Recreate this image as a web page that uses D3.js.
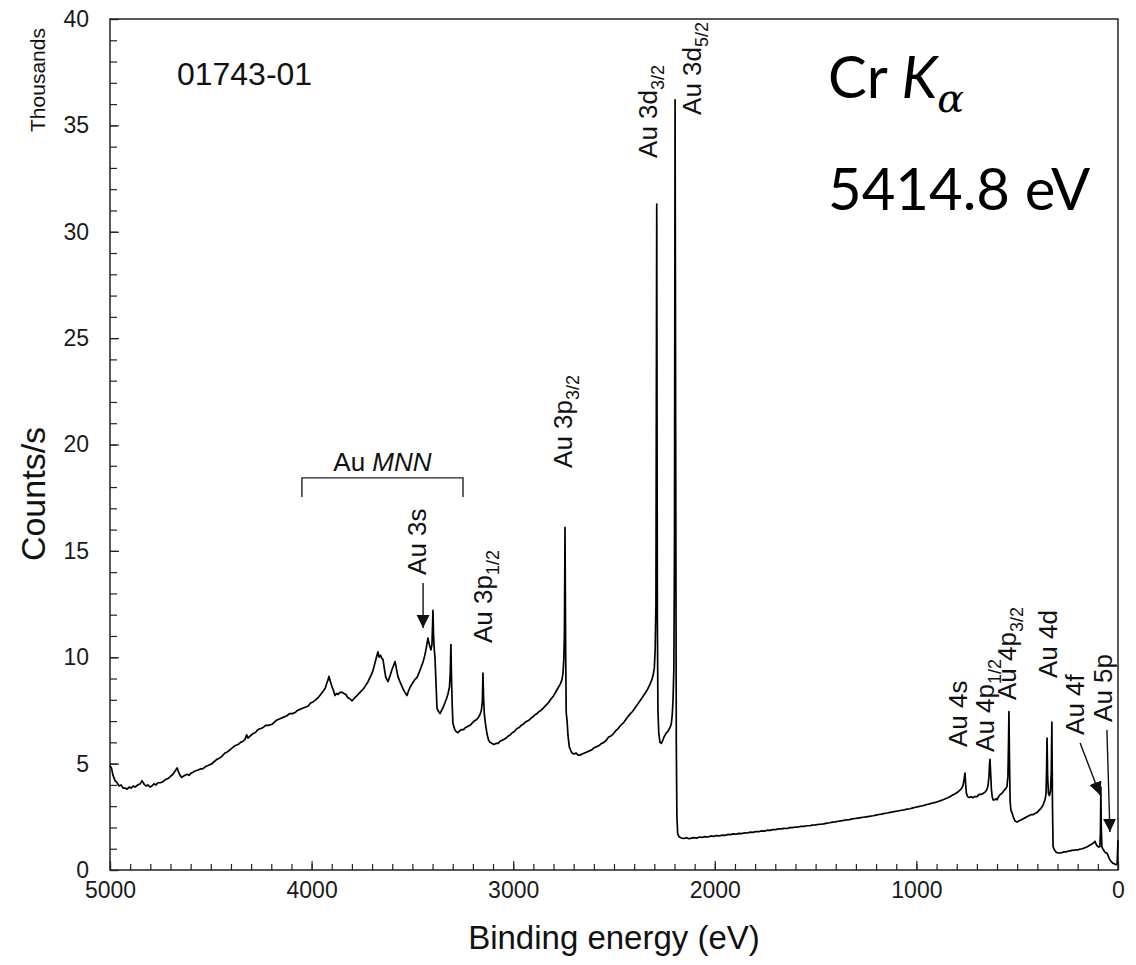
<!DOCTYPE html>
<html>
<head>
<meta charset="utf-8">
<script src="https://d3js.org/d3.v7.min.js"></script>
<style>
  body { margin: 0; background: #fff; }
  svg { display: block; font-family: "Liberation Sans", Arial, sans-serif; }
</style>
</head>
<body>
<svg id="chart" width="1136" height="965"></svg>
<script>
// XPS survey spectrum of Au: [binding energy (eV), counts/s (thousands)]
const augerRegion = [
  [5000,4.9],[4993,4.8],[4985,4.45],[4975,4.2],[4965,4.1],[4955,3.95],[4945,4.0],[4935,3.85],[4925,3.85],[4915,3.8],
  [4905,3.9],[4895,3.85],[4885,3.95],[4875,3.9],[4862,4.0],[4850,4.05],[4841,4.2],[4832,4.05],[4822,3.95],[4812,4.0],
  [4802,3.9],[4792,3.95],[4782,4.05],[4772,4.0],[4762,4.1],[4750,4.1],[4737,4.15],[4725,4.25],[4712,4.3],[4700,4.4],
  [4688,4.5],[4677,4.65],[4667,4.8],[4660,4.6],[4652,4.45],[4645,4.35],[4638,4.4],[4628,4.45],[4618,4.5],[4608,4.45],
  [4598,4.55],[4588,4.6],[4578,4.65],[4563,4.7],[4552,4.75],[4540,4.75],[4528,4.85],[4516,4.9],[4505,4.95],[4494,5.0],
  [4482,5.1],[4470,5.2],[4458,5.25],[4444,5.35],[4430,5.5],[4418,5.55],[4405,5.65],[4392,5.75],[4378,5.85],[4365,5.9],
  [4352,6.0],[4340,6.05],[4330,6.15],[4322,6.35],[4315,6.2],[4305,6.3],[4292,6.4],[4280,6.45],[4266,6.6],[4252,6.65],
  [4240,6.7],[4228,6.8],[4215,6.8],[4196,6.85],[4185,6.95],[4172,7.05],[4160,7.1],[4147,7.15],[4135,7.2],[4122,7.25],
  [4110,7.35],[4095,7.35],[4082,7.4],[4070,7.5],[4058,7.55],[4045,7.6],[4032,7.65],[4018,7.7],[4005,7.85],[3993,7.9],
  [3980,8.0],[3968,8.1],[3955,8.25],[3943,8.4],[3932,8.55],[3924,8.8],[3918,8.95],[3914,9.1],[3908,8.9],[3900,8.65],
  [3892,8.45],[3884,8.2],[3876,8.3],[3868,8.25],[3860,8.35],[3849,8.35],[3840,8.3],[3830,8.25],[3820,8.1],[3810,8.05],
  [3800,7.95],[3790,8.05],[3780,8.15],[3770,8.25],[3760,8.35],[3750,8.45],[3740,8.55],[3730,8.7],[3720,8.85],[3710,9.05],
  [3700,9.25],[3692,9.5],[3684,9.8],[3677,10.05],[3671,10.25],[3665,10.0],[3658,10.1],[3652,9.95],[3646,9.9],[3639,9.45],
  [3632,9.05],[3621,8.85],[3612,9.1],[3602,9.4],[3594,9.6],[3586,9.8]
];

const coreRegion = [
  [3580,9.5],[3572,9.1],[3564,8.9],[3555,8.7],[3546,8.5],[3537,8.35],[3527,8.2],[3518,8.45],[3508,8.65],[3498,8.8],
  [3488,8.95],[3477,9.05],[3468,9.25],[3458,9.5],[3448,9.75],[3438,10.1],[3430,10.5],[3423,10.9],[3416,10.6],[3408,10.35],
  [3403,10.6],[3400,11.5],[3398,12.2],[3395,11.0],[3391,10.3],[3388,10.0],[3383,8.8],[3378,7.6],[3370,7.45],[3363,7.35],
  [3355,7.5],[3347,7.65],[3339,7.85],[3331,8.05],[3323,8.3],[3316,8.6],[3312,9.3],[3309,10.6],[3306,9.0],[3302,7.6],
  [3299,6.9],[3290,6.6],[3282,6.5],[3274,6.45],[3265,6.55],[3256,6.6],[3246,6.6],[3236,6.7],[3226,6.75],[3214,6.8],
  [3204,6.9],[3194,7.0],[3184,7.05],[3174,7.15],[3165,7.3],[3158,7.5],[3153,7.9],[3150,9.25],[3147,8.1],[3143,7.3],
  [3138,6.9],[3130,6.4],[3122,6.1],[3115,6.0],[3105,5.95],[3095,5.9],[3085,5.95],[3075,5.95],[3065,6.05],[3055,6.1],
  [3045,6.15],[3035,6.2],[3025,6.3],[3015,6.35],[3005,6.45],[2995,6.5],[2981,6.65],[2970,6.7],[2960,6.8],[2950,6.85],
  [2940,6.95],[2930,7.0],[2920,7.05],[2910,7.15],[2902,7.2],[2892,7.3],[2882,7.35],[2872,7.45],[2862,7.5],[2852,7.6],
  [2842,7.7],[2832,7.8],[2822,7.9],[2812,8.05],[2802,8.15],[2793,8.3],[2784,8.45],[2775,8.6],[2766,8.75],[2758,8.95],
  [2753,9.25],[2749,9.9],[2746,11.0],[2743,16.1],[2740,10.5],[2737,7.4],[2733,7.05],[2728,6.3],[2722,5.8],[2714,5.6],
  [2708,5.5],[2698,5.45],[2688,5.5],[2678,5.4],[2669,5.4],[2658,5.45],[2646,5.5],[2634,5.55],[2622,5.6],[2610,5.65],
  [2598,5.75],[2586,5.8],[2574,5.85],[2562,5.95],[2550,6.0],[2538,6.1],[2527,6.25],[2515,6.3],[2503,6.4],[2491,6.55],
  [2479,6.65],[2467,6.8],[2455,6.9],[2443,7.05],[2431,7.2],[2419,7.35],[2408,7.45],[2397,7.6],[2386,7.75],[2375,7.9],
  [2364,8.05],[2353,8.2],[2343,8.35],[2333,8.5],[2323,8.7],[2314,8.9],[2306,9.15],[2300,9.5],[2296,10.3],[2292,12.5],
  [2288,31.3],[2285,12.0],[2282,7.5],[2278,6.45],[2272,6.0],[2265,5.95],[2258,6.1],[2252,6.25],[2246,6.35],[2240,6.45],
  [2234,6.5],[2228,6.6],[2222,6.7],[2216,6.85],[2211,7.3],[2207,8.0],[2203,9.5],[2200,15.0],[2197,36.2],[2194,20.0],
  [2191,6.0],[2188,2.5],[2184,1.7]
];

const valenceRegion = [
  [2176,1.55],[2165,1.5],[2152,1.48],[2140,1.52],[2128,1.47],[2116,1.5],[2104,1.52],[2090,1.5],[2076,1.55],[2062,1.53],
  [2048,1.57],[2034,1.55],[2020,1.6],[2006,1.58],[1992,1.62],[1978,1.6],[1964,1.64],[1950,1.63],[1936,1.67],[1922,1.66],
  [1908,1.7],[1894,1.68],[1880,1.72],[1866,1.71],[1852,1.75],[1838,1.74],[1824,1.78],[1810,1.77],[1796,1.81],[1782,1.8],
  [1768,1.84],[1754,1.83],[1740,1.87],[1726,1.86],[1712,1.9],[1698,1.9],[1684,1.93],[1670,1.93],[1656,1.96],[1642,1.95],
  [1628,1.99],[1614,1.99],[1600,2.02],[1586,2.02],[1572,2.05],[1558,2.05],[1544,2.08],[1530,2.08],[1516,2.11],[1502,2.12],
  [1488,2.14],[1474,2.15],[1460,2.17],[1443,2.2],[1430,2.22],[1416,2.25],[1402,2.26],[1388,2.29],[1374,2.31],[1360,2.33],
  [1346,2.36],[1332,2.37],[1318,2.4],[1304,2.42],[1290,2.44],[1276,2.46],[1262,2.48],[1248,2.5],[1234,2.52],[1215,2.55],
  [1200,2.58],[1186,2.61],[1172,2.63],[1158,2.66],[1144,2.68],[1130,2.71],[1116,2.73],[1102,2.76],[1088,2.78],[1074,2.81],
  [1060,2.83],[1046,2.86],[1032,2.88],[1017,2.92],[1004,2.95],[990,2.98],[976,3.01],[962,3.04],[948,3.08],[934,3.11],
  [920,3.15],[906,3.18],[892,3.22],[880,3.26],[868,3.3],[856,3.35],[844,3.4],[832,3.46],[820,3.52],[808,3.58],
  [796,3.65],[784,3.75],[775,3.85],[768,4.0],[763,4.3],[759,4.55],[756,4.1],[752,3.6],[746,3.45],[738,3.4],
  [730,3.45],[720,3.4],[710,3.45],[699,3.45],[690,3.55],[680,3.55],[670,3.6],[660,3.65],[652,3.75],[645,3.95],
  [640,4.4],[637,5.0],[635,5.2],[632,4.6],[628,3.8],[624,3.45],[620,3.3],[612,3.3],[604,3.35],[600,3.3],
  [592,3.45],[584,3.55],[576,3.6],[568,3.7],[560,3.8],[551,3.9],[546,4.4],[543,6.0],[541,7.45],[538,5.0],
  [535,3.2],[531,2.8],[526,2.7],[518,2.45],[510,2.3],[501,2.25],[492,2.3],[482,2.35],[472,2.4],[462,2.45],
  [452,2.5],[442,2.55],[432,2.6],[422,2.6],[412,2.65],[402,2.7],[392,2.8],[382,2.9],[372,3.05],[362,3.3],
  [357,3.6],[354,4.8],[352,6.2],[349,4.4],[345,3.6],[340,3.5],[335,3.7],[331,4.6],[328,6.95],[325,3.0],
  [322,1.1],[316,0.95],[308,0.85],[298,0.8],[288,0.8],[278,0.82],[268,0.85],[258,0.85],[248,0.88],[238,0.9],
  [228,0.92],[218,0.93],[208,0.95],[198,0.95],[188,0.98],[178,1.0],[168,1.03],[158,1.07],[148,1.12],[138,1.18],
  [128,1.23],[120,1.28],[114,1.35],[108,1.2],[102,1.12],[96,1.08],[90,1.1],[87,1.8],[85,3.9],[83,2.0],
  [80,1.1],[76,1.0],[72,0.95],[66,0.85],[60,0.8],[55,0.8],[50,0.7],[44,0.55],[38,0.45],[32,0.38],
  [26,0.32],[20,0.3],[14,0.27],[8,0.25],[4,0.3],[2,0.9],[0,1.4]
];

const xTicks = [5000, 4000, 3000, 2000, 1000, 0];
const yTicks = [0, 5, 10, 15, 20, 25, 30, 35, 40];

// peak labels: text, subscript, anchor energy (eV), anchor counts (thousands)
const peakLabels = [
  { text: 'Au 3d', sub: '3/2', e: 2287, c: 33.47 },
  { text: 'Au 3d', sub: '5/2', e: 2068, c: 35.49 },
  { text: 'Au 3p', sub: '3/2', e: 2708, c: 18.9 },
  { text: 'Au 3p', sub: '1/2', e: 3105, c: 10.67 },
  { text: 'Au 3s', sub: '', e: 3433, c: 13.87 },
  { text: 'Au 4s', sub: '', e: 749, c: 5.78 },
  { text: 'Au 4p', sub: '1/2', e: 615, c: 5.55 },
  { text: 'Au 4p', sub: '3/2', e: 506, c: 7.99 },
  { text: 'Au 4d', sub: '', e: 303, c: 9.02 },
  { text: 'Au 4f', sub: '', e: 169, c: 6.35 },
  { text: 'Au 5p', sub: '', e: 30, c: 6.96 }
];

// arrows: [from energy, from counts, to energy, to counts]
const arrows = [
  [3447, 13.49, 3447, 11.37],
  [188, 5.97, 89, 3.53],
  [55, 6.58, 40, 1.79]
];

const mnnBracket = { from: 4048, to: 3249, top: 18.43, foot: 17.53 };

const W = 1136, H = 965;
const margin = { top: 19, right: 18, bottom: 95, left: 110 };

const x = d3.scaleLinear().domain([5000, 0]).range([margin.left, W - margin.right]);
const y = d3.scaleLinear().domain([0, 40]).range([H - margin.bottom, margin.top]);

const svg = d3.select('#chart');
svg.append('rect').attr('width', W).attr('height', H).attr('fill', '#fff');

svg.append('defs').append('marker')
  .attr('id', 'head')
  .attr('markerUnits', 'userSpaceOnUse')
  .attr('markerWidth', 14).attr('markerHeight', 14)
  .attr('refX', 13).attr('refY', 6.5)
  .attr('orient', 'auto')
  .append('path').attr('d', 'M0,0L13,6.5L0,13Z').attr('fill', '#111');

// minor ticks
svg.append('g')
  .attr('transform', `translate(0,${y(0)})`)
  .call(d3.axisBottom(x).tickValues(d3.range(0, 5001, 100)).tickSize(-6).tickFormat(''))
  .call(g => g.select('.domain').remove());
svg.append('g')
  .attr('transform', `translate(${x(5000)},0)`)
  .call(d3.axisLeft(y).tickValues(d3.range(0, 41, 1)).tickSize(-7).tickFormat(''))
  .call(g => g.select('.domain').remove());

// major ticks + labels
const xAxis = svg.append('g')
  .attr('transform', `translate(0,${y(0)})`)
  .call(d3.axisBottom(x).tickValues(xTicks).tickSize(-9).tickPadding(12).tickFormat(d3.format('d')));
const yAxis = svg.append('g')
  .attr('transform', `translate(${x(5000)},0)`)
  .call(d3.axisLeft(y).tickValues(yTicks).tickSize(-9).tickPadding(21));

svg.selectAll('.tick line').attr('stroke', '#222').attr('stroke-width', 1.2);
[xAxis, yAxis].forEach(a => {
  a.attr('font-family', null).attr('font-size', null);
  a.select('.domain').remove();
  a.selectAll('text').attr('font-size', 23).attr('fill', '#1a1a1a');
});

// frame
svg.append('rect')
  .attr('x', x(5000)).attr('y', y(40))
  .attr('width', x(0) - x(5000)).attr('height', y(0) - y(40))
  .attr('fill', 'none').attr('stroke', '#222').attr('stroke-width', 1.5);

// spectrum
const spectrum = augerRegion.concat(coreRegion, valenceRegion);
svg.append('path')
  .datum(spectrum)
  .attr('fill', 'none')
  .attr('stroke', '#000')
  .attr('stroke-width', 1.7)
  .attr('stroke-linejoin', 'round')
  .attr('d', d3.line().x(d => x(d[0])).y(d => y(d[1])));

// peak labels (rotated)
const lab = svg.selectAll('.peak')
  .data(peakLabels)
  .join('text')
  .attr('class', 'peak')
  .attr('transform', d => `translate(${x(d.e)},${y(d.c)}) rotate(-90)`)
  .attr('font-size', 26)
  .attr('fill', '#111');
lab.append('tspan').text(d => d.text);
lab.filter(d => d.sub).append('tspan')
  .attr('font-size', 18).attr('dy', 7)
  .text(d => d.sub);

// arrows
svg.selectAll('.arrow')
  .data(arrows)
  .join('line')
  .attr('class', 'arrow')
  .attr('x1', d => x(d[0])).attr('y1', d => y(d[1]))
  .attr('x2', d => x(d[2])).attr('y2', d => y(d[3]))
  .attr('stroke', '#111').attr('stroke-width', 1.4)
  .attr('marker-end', 'url(#head)');

// Au MNN bracket
svg.append('path')
  .attr('d', `M${x(mnnBracket.from)},${y(mnnBracket.foot)}V${y(mnnBracket.top)}H${x(mnnBracket.to)}V${y(mnnBracket.foot)}`)
  .attr('fill', 'none').attr('stroke', '#222').attr('stroke-width', 1.4);
const mnn = svg.append('text')
  .attr('x', x((mnnBracket.from + mnnBracket.to) / 2))
  .attr('y', y(18.75))
  .attr('text-anchor', 'middle')
  .attr('font-size', 26).attr('fill', '#111');
mnn.append('tspan').text('Au ');
mnn.append('tspan').attr('font-style', 'italic').text('MNN');

// sample id
svg.append('text')
  .attr('x', x(4668)).attr('y', y(36.9))
  .attr('font-size', 32).attr('fill', '#111')
  .text('01743-01');

// source annotation
const src = svg.append('g').attr('font-family', 'Lato, "Open Sans", sans-serif').attr('fill', '#000');
const l1 = src.append('text').attr('x', x(1438)).attr('y', y(36.29)).attr('font-size', 58);
l1.append('tspan').text('Cr ');
l1.append('tspan').attr('font-style', 'italic').text('K');
l1.append('tspan').attr('font-family', '"DejaVu Serif", serif').attr('font-style', 'italic')
  .attr('font-size', 40).attr('dy', 14).text('α');
src.append('text').attr('x', x(1438)).attr('y', y(31.02)).attr('font-size', 58).text('5414.8 eV');

// axis titles
svg.append('text')
  .attr('x', (x(5000) + x(0)) / 2).attr('y', 949)
  .attr('text-anchor', 'middle').attr('font-size', 33).attr('fill', '#111')
  .text('Binding energy (eV)');
svg.append('text')
  .attr('transform', 'translate(45,494) rotate(-90)')
  .attr('text-anchor', 'middle').attr('font-size', 34).attr('fill', '#111')
  .text('Counts/s');
svg.append('text')
  .attr('transform', 'translate(45,80) rotate(-90)')
  .attr('text-anchor', 'middle').attr('font-size', 21).attr('fill', '#111')
  .text('Thousands');
</script>
</body>
</html>
